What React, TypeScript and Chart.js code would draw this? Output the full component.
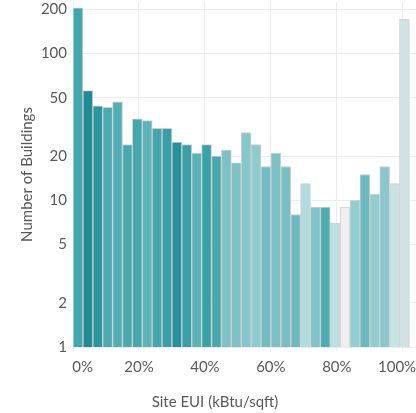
import React, { useEffect, useRef } from "react";
import { Chart, registerables } from "chart.js";

Chart.register(...registerables);

// Bin start (% of range), each bin is 3% wide
const binStarts = [0, 3, 6, 9, 12, 15, 18, 21, 24, 27, 30, 33, 36, 39, 42, 45, 48, 51, 54, 57, 60, 63, 66, 69, 72, 75, 78, 81, 84, 87, 90, 93, 96, 99];
const binWidth = 3;
const buildingCounts = [205, 56, 44, 43, 47, 24, 36, 35, 31, 31, 25, 24, 21, 24, 20, 22, 18, 29, 24, 17, 21, 17, 8, 13, 9, 9, 7, 9, 10, 15, 11, 17, 13, 172];
const barColors = [
  "#41a7ad", "#1f8c94", "#2a979e", "#4babb1", "#52aeb4", "#4aa9af", "#45a6ac", "#5cb4b9", "#44a6ac", "#35a0a6",
  "#23909a", "#37a1a7", "#5ab2b7", "#39a2a8", "#47a8ae", "#7cc1c6", "#7ec2c7", "#86c7cb", "#8ecbce", "#72bdc2",
  "#7bc1c6", "#78bfc4", "#6bbabf", "#b2dbdd", "#7ec3c7", "#4eadb3", "#bbdfe1", "#efefef", "#92cdd0", "#6bbabf",
  "#94cdd0", "#88c8cc", "#c9e3e5", "#cce2e5",
];
const xTicks = [0, 20, 40, 60, 80, 100];
const yTicks = [1, 2, 5, 10, 20, 50, 100, 200];
const xTitle = "Site EUI (kBtu/sqft)";
const yTitle = "Number of Buildings";

const FONT = "Lato";
const TEXT = "#595959";
const GRID = "#ececec";

export default function App() {
  const ref = useRef<HTMLCanvasElement | null>(null);
  useEffect(() => {
    if (!ref.current) return;
    const chart = new Chart(ref.current, {
      type: "bar",
      data: {
        datasets: [
          {
            data: binStarts.map((s, i) => ({ x: s + binWidth / 2, y: buildingCounts[i] })),
            backgroundColor: barColors,
            borderColor: "#d0d0d0",
            borderWidth: 1,
            barPercentage: 1,
            categoryPercentage: 1,
          },
        ],
      },
      options: {
        animation: false,
        responsive: false,
        layout: { padding: { left: 14, right: 0, top: 2, bottom: 0 } },
        plugins: {
          legend: { display: false },
          tooltip: { enabled: false },
          title: {
            display: true,
            text: xTitle,
            position: "bottom",
            color: TEXT,
            font: { family: FONT, size: 15, weight: "normal" },
            padding: { top: 0, bottom: 2 },
          },
        },
        scales: {
          x: {
            type: "linear",
            min: 0,
            max: 104,
            offset: false,
            grid: { color: GRID, offset: false, drawTicks: true, tickLength: 4 },
            border: { display: false },
            ticks: {
              color: TEXT,
              font: { family: FONT, size: 15 },
              padding: 7,
              maxRotation: 0,
              autoSkip: false,
              callback: (v: any) => (v === 0 ? "     0%" : v === 100 ? "100%   " : v + "%"),
            },
            afterBuildTicks: (s: any) => {
              s.ticks = xTicks.map((v) => ({ value: v }));
            },
            afterFit: (s: any) => {
              s.height = 46;
              s.paddingLeft = 0;
              s.paddingRight = 0;
            },
          },
          y: {
            type: "logarithmic",
            min: 1,
            max: 225,
            grid: { color: GRID, drawTicks: false },
            border: { display: false },
            ticks: {
              color: TEXT,
              font: { family: FONT, size: 15 },
              padding: 6,
              autoSkip: false,
              callback: (v: any) => String(v),
            },
            afterBuildTicks: (s: any) => {
              s.ticks = yTicks.map((v) => ({ value: v }));
            },
            afterFit: (s: any) => {
              s.width = 59;
              s.paddingTop = 0;
              s.paddingBottom = 0;
            },
            title: {
              display: true,
              text: yTitle,
              color: TEXT,
              font: { family: FONT, size: 15 },
              padding: { top: 4, bottom: 0 },
            },
          },
        },
      },
    });
    return () => chart.destroy();
  }, []);
  return (
    <div style={{ position: "absolute", left: 0, top: 0, width: 416, height: 413, background: "#fff" }}>
      <canvas ref={ref} width={416} height={413} />
    </div>
  );
}
